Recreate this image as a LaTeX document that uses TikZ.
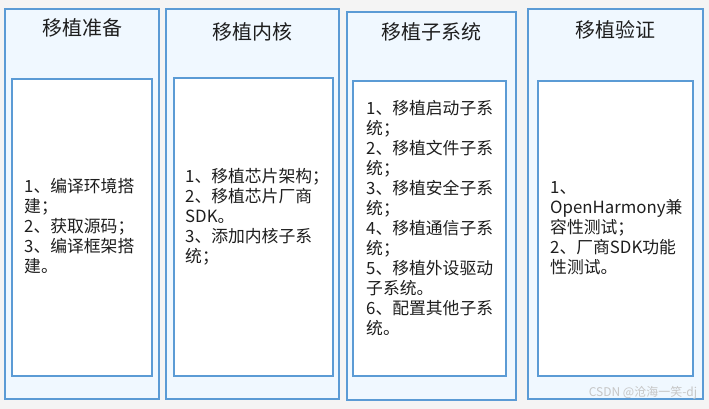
\documentclass[tikz,border=0pt]{standalone}
\usepackage{fontspec}
\setmainfont{Noto Sans CJK SC}
\usetikzlibrary{positioning}
\definecolor{pagebg}{RGB}{244,244,244}
\definecolor{colfill}{RGB}{240,248,255}
\definecolor{colline}{RGB}{91,155,213}
\definecolor{textcol}{RGB}{30,30,30}

\begin{document}
\begin{tikzpicture}[
  x=1pt, y=-1pt,
  col/.style={
    draw=colline, line width=1.3pt, fill=colfill,
    inner sep=0pt
  },
  pane/.style={
    draw=colline, line width=1.3pt, fill=white,
    inner sep=0pt
  },
  title/.style={
    text=textcol, font=\fontsize{20}{24}\selectfont, inner sep=0pt
  },
  body/.style={
    text=textcol, font=\fontsize{16.8}{20}\selectfont,
    align=left, anchor=west, inner sep=0pt
  },
]

% ---- background ----
\fill[pagebg] (0,0) rectangle (709,409);

% ---- Columns ----
\node (prep) at ( 82.0,204) [col, minimum width=154pt, minimum height=390pt] {};
\node (kern) at (252.5,204) [col, minimum width=173pt, minimum height=390pt] {};
\node (subs) at (431.5,206) [col, minimum width=169pt, minimum height=388pt] {};
\node (veri) at (615.5,204) [col, minimum width=175pt, minimum height=390pt] {};

% ---- Inner panes ----
\node (prepP) at ( 82.0,227.5) [pane, minimum width=140pt, minimum height=297pt] {};
\node (kernP) at (253.5,227.0) [pane, minimum width=159pt, minimum height=298pt] {};
\node (subsP) at (429.5,228.5) [pane, minimum width=153pt, minimum height=295pt] {};
\node (veriP) at (615.5,228.5) [pane, minimum width=155pt, minimum height=295pt] {};

% ---- Titles ----
\node (prepT) at ( 82.0,28) [title] {移植准备};
\node (kernT) at (252.5,32) [title] {移植内核};
\node (subsT) at (431.5,32) [title] {移植子系统};
\node (veriT) at (615.5,30) [title] {移植验证};

% ---- Step lists ----
\node (prepL) at (24,226) [body] {1、编译环境搭\\建；\\2、获取源码；\\3、编译框架搭\\建。};
\node (kernL) at (185,217) [body] {1、移植芯片架构；\\2、移植芯片厂商\\SDK。\\3、添加内核子系\\统；};
\node (subsL) at (366,218) [body] {1、移植启动子系\\统；\\2、移植文件子系\\统；\\3、移植安全子系\\统；\\4、移植通信子系\\统；\\5、移植外设驱动\\子系统。\\6、配置其他子系\\统。};
\node (veriL) at (550,228) [body] {1、\\OpenHarmony兼\\容性测试；\\2、厂商SDK功能\\性测试。};

% ---- watermark ----
\node (mark) at (643,393) [text=gray!45, font=\fontsize{12}{13}\selectfont, inner sep=0pt] {CSDN @沧海一笑-dj};

\end{tikzpicture}
\end{document}
